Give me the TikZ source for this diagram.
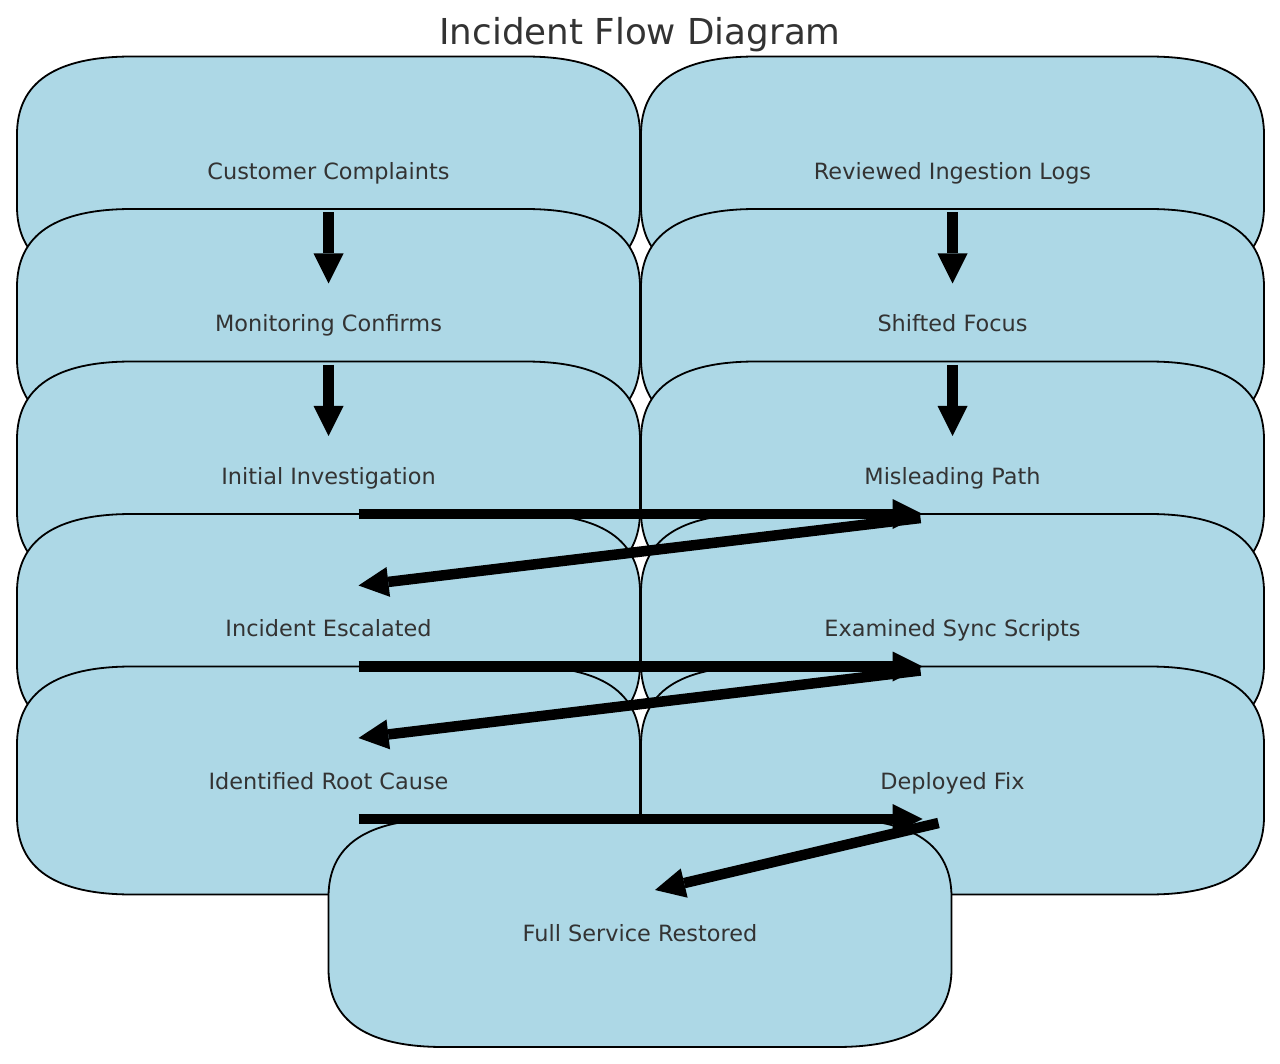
\documentclass[tikz,border=0pt]{standalone}
\usepackage{fontspec}
\setmainfont{DejaVu Sans}
\usetikzlibrary{arrows.meta,calc}
\definecolor{boxblue}{RGB}{173,216,230}
\definecolor{txtgray}{RGB}{51,51,51}
\newcommand{\flowbox}[4]{%
  \path[boxshape, shift={(#2,#3)}] (-196.5,-114) -- (196.5,-114)
    .. controls (273.17,-114) and (311.5,-88) .. (311.5,-36) -- (311.5,36)
    .. controls (311.5,88) and (273.17,114) .. (196.5,114) -- (-196.5,114)
    .. controls (-273.17,114) and (-311.5,88) .. (-311.5,36) -- (-311.5,-36)
    .. controls (-311.5,-88) and (-273.17,-114) .. (-196.5,-114) -- cycle;
  \node[lbl] (#1) at (#2,#3) {#4};}
\begin{document}
\begin{tikzpicture}[x=1pt,y=-1pt,
  boxshape/.style={fill=boxblue, draw=black, line width=1.8pt, line join=round},
  lbl/.style={text=txtgray, font=\fontsize{22.4}{26}\selectfont, inner sep=0pt, text height=17.5pt, text depth=0pt},
  bigarrow/.style={draw=black, line width=10.5pt, -{Triangle[width=30pt,length=30pt,line width=0pt 0 0]}}]
\useasboundingbox (0,0) rectangle (1280,1064);
\fill[white] (0,0) rectangle (1280,1064);
\node[text=txtgray, font=\fontsize{35.7}{40}\selectfont, inner sep=0pt, text height=27pt, text depth=0pt] (title) at (640,31) {Incident Flow Diagram};
% left column
\flowbox{cc}{328.5}{170.5}{Customer Complaints}
\flowbox{mc}{328.5}{323}{Monitoring Confirms}
\flowbox{ii}{328.5}{475.5}{Initial Investigation}
\flowbox{ie}{328.5}{628}{Incident Escalated}
\flowbox{rc}{328.5}{780.5}{Identified Root Cause}
% right column
\flowbox{rl}{952.5}{170.5}{Reviewed Ingestion Logs}
\flowbox{sf}{952.5}{323}{Shifted Focus}
\flowbox{mp}{952.5}{475.5}{Misleading Path}
\flowbox{es}{952.5}{628}{Examined Sync Scripts}
\flowbox{df}{952.5}{780.5}{Deployed Fix}
% final
\flowbox{fs}{640}{933}{Full Service Restored}
% arrows
\draw[bigarrow] ($(cc)+(0,42)$) -- ($(cc)+(0,113)$);
\draw[bigarrow] ($(mc)+(0,42)$) -- ($(mc)+(0,113)$);
\draw[bigarrow] ($(rl)+(0,42)$) -- ($(rl)+(0,113)$);
\draw[bigarrow] ($(sf)+(0,42)$) -- ($(sf)+(0,113)$);
\draw[bigarrow] ($(ii)+(30,38.5)$) -- ($(mp)+(-30,38.5)$);
\draw[bigarrow] ($(mp)+(-32,42.5)$) -- ($(ie)+(30,-42.5)$);
\draw[bigarrow] ($(ie)+(30,38.5)$) -- ($(es)+(-30,38.5)$);
\draw[bigarrow] ($(es)+(-32,42.5)$) -- ($(rc)+(30,-42.5)$);
\draw[bigarrow] ($(rc)+(30,38.5)$) -- ($(df)+(-30,38.5)$);
\draw[bigarrow] ($(df)+(-14,42.5)$) -- ($(fs)+(15,-43)$);
\end{tikzpicture}
\end{document}
